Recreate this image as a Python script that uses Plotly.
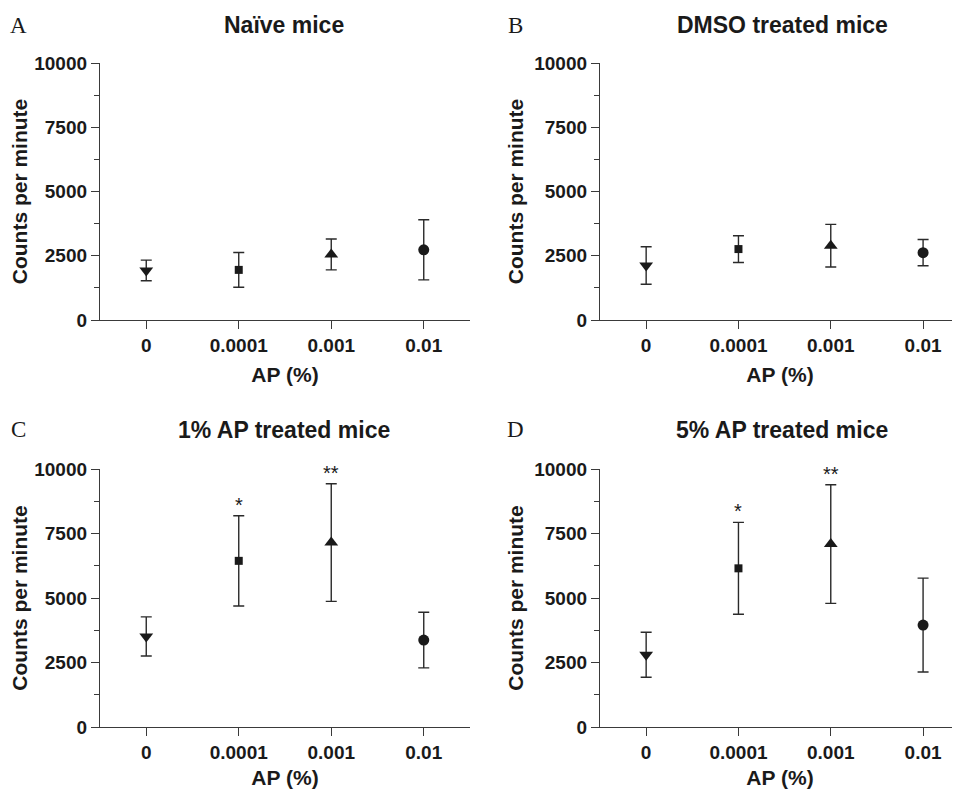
import plotly.graph_objects as go

# ---------------- data ----------------
categories = ["0", "0.0001", "0.001", "0.01"]
symbols = ["triangle-down", "square", "triangle-up", "circle"]

panel_letters = ["A", "B", "C", "D"]
panel_titles = ["Naïve mice", "DMSO treated mice", "1% AP treated mice", "5% AP treated mice"]

naive_mean = [1930, 1950, 2550, 2730]
naive_err = [400, 675, 600, 1170]

dmso_mean = [2120, 2760, 2890, 2620]
dmso_err = [730, 520, 830, 510]

ap1_mean = [3510, 6440, 7150, 3370]
ap1_err = [760, 1750, 2280, 1080]

ap5_mean = [2800, 6150, 7090, 3950]
ap5_err = [870, 1780, 2300, 1820]

ap1_stars = ["", "*", "**", ""]
ap5_stars = ["", "*", "**", ""]
no_stars = ["", "", "", ""]

y_ticks = [0, 2500, 5000, 7500, 10000]
y_ticktext = ["0", "2500", "5000", "7500", "10000"]

panels = [
    (naive_mean, naive_err, no_stars),
    (dmso_mean, dmso_err, no_stars),
    (ap1_mean, ap1_err, ap1_stars),
    (ap5_mean, ap5_err, ap5_stars),
]

# ---------------- layout geometry ----------------
# The page body has an 8px default margin, so the figure is drawn 8px in
# from the window's top-left corner; size it to fill the rest of the window.
OFF = 8
W, H = 960 - OFF, 789 - OFF


def px(x):
    return (x - OFF) / W


def py(y):
    return 1 - (y - OFF) / H


x_domains = [(px(100), px(470)), (px(600), 1.0)]
y_domains = [(py(320), py(63)), (py(727), py(469))]
x_ranges = [[-0.5, 3.5], [-0.5, 3.4]]
title_y = [py(25), py(430)]
letter_x = [px(18.5), px(515)]
title_x = [px(284), px(782)]

SANS = "Liberation Sans, Arial, sans-serif"
SERIF = "Liberation Serif, Times New Roman, serif"
INK = "#1a1a1a"
AXIS = "#3a3a3a"
marker_sizes = {"triangle-down": 12, "triangle-up": 12, "square": 8, "circle": 11}

fig = go.Figure()
layout = dict(
    width=W, height=H,
    margin=dict(l=0, r=0, t=0, b=0, autoexpand=False),
    paper_bgcolor="white", plot_bgcolor="white",
    showlegend=False,
    font=dict(family=SANS, color=INK),
)
annotations = []

for i, (means, errs, stars) in enumerate(panels):
    row, col = divmod(i, 2)
    n = i + 1
    xa = "x" if n == 1 else f"x{n}"
    ya = "y" if n == 1 else f"y{n}"
    xkey = "xaxis" if n == 1 else f"xaxis{n}"
    ykey = "yaxis" if n == 1 else f"yaxis{n}"

    for j, cat in enumerate(categories):
        fig.add_trace(go.Scatter(
            x=[cat], y=[means[j]], xaxis=xa, yaxis=ya, mode="markers",
            marker=dict(symbol=symbols[j], size=marker_sizes[symbols[j]],
                        color=INK, line=dict(width=0)),
            error_y=dict(type="data", array=[errs[j]], visible=True,
                         color="#2a2a2a", thickness=1.4, width=5.5),
            hoverinfo="skip",
        ))
        if stars[j]:
            annotations.append(dict(
                x=j, y=means[j] + errs[j], xref=xa, yref=ya,
                text=stars[j], showarrow=False, yanchor="bottom",
                yshift=-2, font=dict(family=SANS, size=20, color=INK),
            ))

    layout[xkey] = dict(
        domain=list(x_domains[col]), anchor=ya, automargin=False,
        type="category", categoryorder="array", categoryarray=categories,
        range=x_ranges[col],
        showline=True, linecolor=AXIS, linewidth=1.3, mirror=False,
        ticks="outside", ticklen=8, tickwidth=1.3, tickcolor=AXIS,
        showgrid=False, zeroline=False,
        tickfont=dict(family=SANS, size=19, color=INK, weight="bold"),
        title=dict(text="AP (%)", font=dict(family=SANS, size=21, color=INK, weight="bold"),
                   standoff=12),
    )
    layout[ykey] = dict(
        domain=list(y_domains[row]), anchor=xa, automargin=False,
        range=[0, 10000], tickvals=y_ticks, ticktext=y_ticktext,
        showline=True, linecolor=AXIS, linewidth=1.3,
        ticks="outside", ticklen=8, tickwidth=1.3, tickcolor=AXIS,
        minor=dict(dtick=1250, ticks="outside", ticklen=5, tickwidth=1.3, tickcolor=AXIS),
        showgrid=False, zeroline=False,
        tickfont=dict(family=SANS, size=19, color=INK, weight="bold"),
        title=dict(text="Counts per minute", font=dict(family=SANS, size=21, color=INK, weight="bold"),
                   standoff=4),
    )

    # panel title and letter
    annotations.append(dict(
        x=title_x[col], y=title_y[row], xref="paper", yref="paper",
        text=panel_titles[i], showarrow=False, xanchor="center", yanchor="middle",
        font=dict(family=SANS, size=23, color=INK, weight="bold"),
    ))
    annotations.append(dict(
        x=letter_x[col], y=title_y[row], xref="paper", yref="paper",
        text=panel_letters[i], showarrow=False, xanchor="center", yanchor="middle",
        font=dict(family=SERIF, size=23, color=INK),
    ))

layout["annotations"] = annotations
fig.update_layout(**layout)
fig.write_html("out.html")
